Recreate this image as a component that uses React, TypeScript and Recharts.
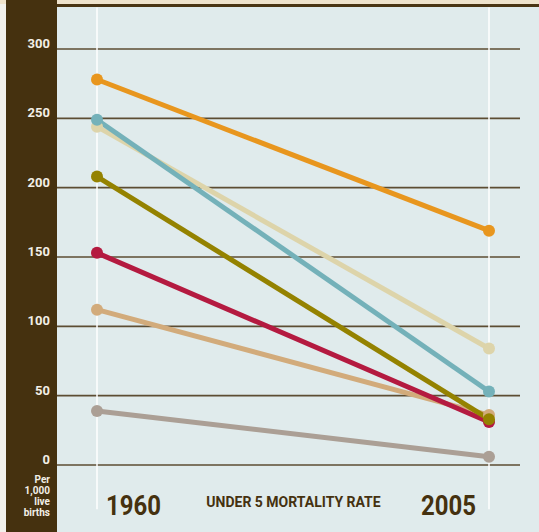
import { LineChart, Line, XAxis, YAxis, CartesianGrid, ReferenceLine } from "recharts";

const years = ["1960", "2005"];
const orange = [278, 169];
const teal = [249, 53];
const beige = [244, 84];
const olive = [208, 33];
const crimson = [153, 31];
const tan = [112, 36];
const gray = [39, 6];
const yTicks = [0, 50, 100, 150, 200, 250, 300];

const seriesList = [
  { key: "beige", values: beige, color: "#ddd4aa" },
  { key: "teal", values: teal, color: "#74b1b9" },
  { key: "orange", values: orange, color: "#e8961e" },
  { key: "tan", values: tan, color: "#d2ab7b" },
  { key: "crimson", values: crimson, color: "#b41a40" },
  { key: "olive", values: olive, color: "#948200" },
  { key: "gray", values: gray, color: "#ab9f95" },
];

const data = years.map((year, i) => {
  const row: Record<string, string | number> = { year };
  seriesList.forEach((s) => (row[s.key] = s.values[i]));
  return row;
});

const font = "Roboto, 'DejaVu Sans', sans-serif";
const brown = "#45310f";

const YearTick = (props: any) => {
  const { x, y, payload, index } = props;
  const first = index === 0;
  return (
    <text
      x={first ? x + 9 : x - 13}
      y={y + 42}
      textAnchor={first ? "start" : "end"}
      fill={brown}
      fontFamily={font}
      fontWeight={700}
      fontSize={27}
      textLength={55}
      lengthAdjust="spacingAndGlyphs"
    >
      {payload.value}
    </text>
  );
};

const ValueTick = (props: any) => {
  const { x, y, payload } = props;
  return (
    <text x={x} y={y - 1} textAnchor="end" fill="#f3efe6" fontFamily={font} fontWeight={700} fontSize={13}>
      {payload.value}
    </text>
  );
};

export default function App() {
  return (
    <div style={{ position: "absolute", left: 0, top: 0, width: 539, height: 532, background: "#f2f1ec", overflow: "hidden" }}>
      <div style={{ position: "absolute", left: 0, top: 0, width: 539, height: 4, background: "#efe3cc" }} />
      <div style={{ position: "absolute", left: 6, top: 4, width: 533, height: 3, background: "#4a3514" }} />
      <div style={{ position: "absolute", left: 6, top: 0, width: 51, height: 532, background: brown }} />
      <div style={{ position: "absolute", left: 57, top: 7, width: 482, height: 525, background: "#e0ebec" }} />
      <div
        style={{
          position: "absolute",
          left: 6,
          top: 474,
          width: 44,
          textAlign: "right",
          color: "#f3efe6",
          fontFamily: font,
          fontWeight: 700,
          fontSize: 10,
          lineHeight: "11px",
        }}
      >
        Per
        <br />
        1,000
        <br />
        live
        <br />
        births
      </div>
      <div
        style={{
          position: "absolute",
          left: 196,
          top: 494,
          width: 195,
          textAlign: "center",
          color: brown,
          fontFamily: font,
          fontWeight: 700,
          fontSize: 14,
          whiteSpace: "nowrap",
        }}
      >
        UNDER 5 MORTALITY RATE
      </div>
      <div style={{ position: "absolute", left: 0, top: 0 }}>
        <LineChart width={539} height={532} data={data} margin={{ top: 49, right: 19, bottom: 0, left: 0 }}>
          <CartesianGrid vertical={false} stroke="#5c4d33" strokeWidth={1.6} />
          <ReferenceLine
            segment={[
              { x: "1960", y: -32 },
              { x: "1960", y: 330 },
            ]}
            stroke="#ffffff"
            strokeWidth={1.5}
            ifOverflow="visible"
          />
          <ReferenceLine
            segment={[
              { x: "2005", y: -32 },
              { x: "2005", y: 330 },
            ]}
            stroke="#ffffff"
            strokeWidth={1.5}
            ifOverflow="visible"
          />
          <XAxis
            dataKey="year"
            padding={{ left: 40, right: 31 }}
            axisLine={false}
            tickLine={false}
            height={67}
            tick={<YearTick />}
            interval={0}
          />
          <YAxis
            domain={[0, 300]}
            ticks={yTicks}
            width={57}
            axisLine={false}
            tickLine={false}
            tickSize={0}
            tickMargin={7}
            tick={<ValueTick />}
          />
          {seriesList.map((s) => (
            <Line
              key={s.key}
              dataKey={s.key}
              stroke={s.color}
              strokeWidth={5}
              dot={{ r: 6, fill: s.color, stroke: "none" }}
              isAnimationActive={false}
            />
          ))}
        </LineChart>
      </div>
    </div>
  );
}
